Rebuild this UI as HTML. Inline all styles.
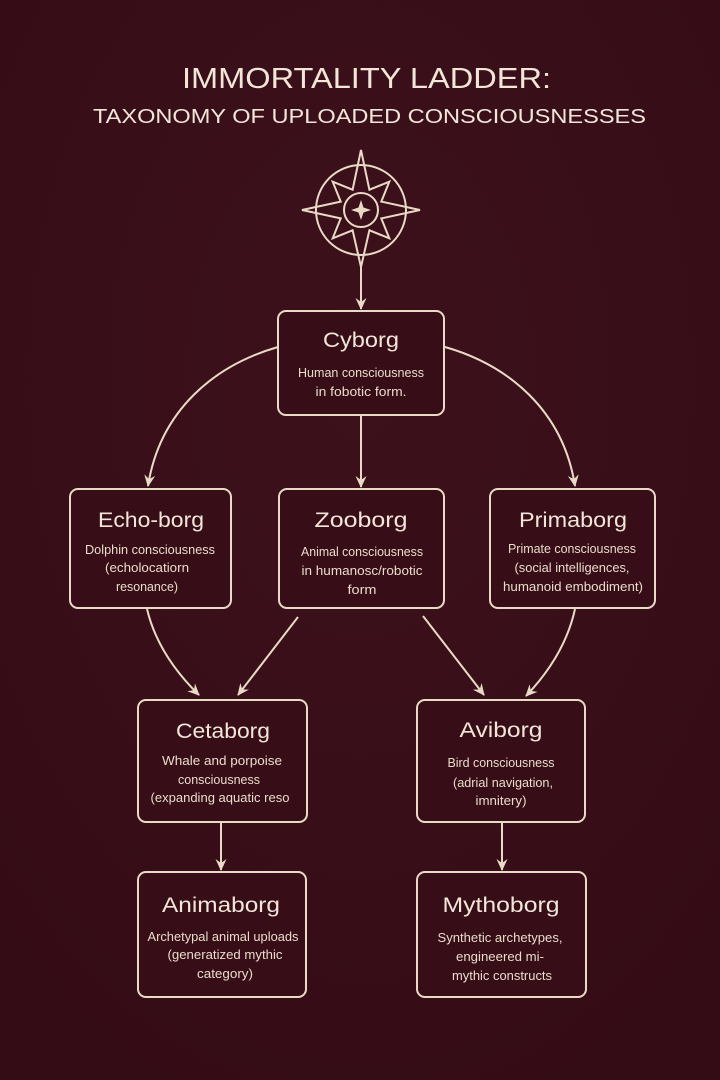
<!DOCTYPE html>
<html>
<head>
<meta charset="utf-8">
<style>
  html, body { margin:0; padding:0; background:#380e18; }
  svg { display:block; }
  .t { font-family:"Liberation Sans", sans-serif; fill:#f1e6d8; }
  .h { font-size:21px; text-anchor:middle; }
  .b { font-size:12.5px; text-anchor:middle; fill:#eadccb; }
  .box { fill:#370d17; stroke:#e9dac6; stroke-width:2; }
  .ln { fill:none; stroke:#e9dac6; stroke-width:2; }
</style>
</head>
<body>
<svg width="720" height="1080" viewBox="0 0 720 1080" xmlns="http://www.w3.org/2000/svg">
  <defs>
    <radialGradient id="bg" cx="50%" cy="35%" r="75%">
      <stop offset="0" stop-color="#3d111b"/>
      <stop offset="1" stop-color="#340c16"/>
    </radialGradient>
    <marker id="ah" viewBox="0 0 12 12" markerWidth="12" markerHeight="12" refX="11" refY="6" orient="auto" markerUnits="userSpaceOnUse">
      <path d="M0,0.5 L12,6 L0,11.5 L4,6 z" fill="#e9dac6"/>
    </marker>
  </defs>
  <rect width="720" height="1080" fill="url(#bg)"/>

  <!-- Titles -->
  <text class="t" x="182" y="88" font-size="29" textLength="369" lengthAdjust="spacingAndGlyphs">IMMORTALITY LADDER:</text>
  <text class="t" x="93" y="123" font-size="20" textLength="553" lengthAdjust="spacingAndGlyphs">TAXONOMY OF UPLOADED CONSCIOUSNESSES</text>

  <!-- Compass -->
  <g transform="translate(361,210)" stroke="#e9dac6" stroke-width="2" fill="none" stroke-linejoin="miter">
    <circle r="45"/>
    <circle r="17"/>
    <polygon points="0,-60 8.4,-20.3 28.3,-28.3 20.3,-8.4 59,0 20.3,8.4 28.3,28.3 8.4,20.3 0,57 -8.4,20.3 -28.3,28.3 -20.3,8.4 -59,0 -20.3,-8.4 -28.3,-28.3 -8.4,-20.3"/>
    <path d="M0,-10 L2.5,-2.5 L10,0 L2.5,2.5 L0,10 L-2.5,2.5 L-10,0 L-2.5,-2.5 z" fill="#e9dac6" stroke="none"/>
  </g>

  <!-- Connectors -->
  <path class="ln" d="M361,267 L361,309" marker-end="url(#ah)"/>
  <path class="ln" d="M278,347 C215,365 160,410 148,486" marker-end="url(#ah)"/>
  <path class="ln" d="M445,347 C508,365 563,410 575,486" marker-end="url(#ah)"/>
  <path class="ln" d="M361,415 L361,487" marker-end="url(#ah)"/>
  <path class="ln" d="M147,609 Q158,655 199,695" marker-end="url(#ah)"/>
  <path class="ln" d="M298,617 L238,695" marker-end="url(#ah)"/>
  <path class="ln" d="M423,616 L484,695" marker-end="url(#ah)"/>
  <path class="ln" d="M575,609 Q565,655 526,696" marker-end="url(#ah)"/>
  <path class="ln" d="M221,822 L221,870" marker-end="url(#ah)"/>
  <path class="ln" d="M502,822 L502,870" marker-end="url(#ah)"/>

  <!-- Cyborg -->
  <rect class="box" x="278" y="311" width="166" height="104" rx="8"/>
  <text class="t h" x="361" y="347" textLength="76" lengthAdjust="spacingAndGlyphs">Cyborg</text>
  <text class="t b" x="361" y="377" textLength="126" lengthAdjust="spacingAndGlyphs">Human consciousness</text>
  <text class="t b" x="361" y="396" textLength="91" lengthAdjust="spacingAndGlyphs">in fobotic form.</text>

  <!-- Echo-borg -->
  <rect class="box" x="70" y="489" width="161" height="119" rx="8"/>
  <text class="t h" x="151" y="527" textLength="106" lengthAdjust="spacingAndGlyphs">Echo-borg</text>
  <text class="t b" x="150" y="554" textLength="130" lengthAdjust="spacingAndGlyphs">Dolphin consciousness</text>
  <text class="t b" x="147" y="572" textLength="84" lengthAdjust="spacingAndGlyphs">(echolocatiorn</text>
  <text class="t b" x="147" y="591" textLength="62" lengthAdjust="spacingAndGlyphs">resonance)</text>

  <!-- Zooborg -->
  <rect class="box" x="279" y="489" width="165" height="119" rx="8"/>
  <text class="t h" x="361" y="527" textLength="93" lengthAdjust="spacingAndGlyphs">Zooborg</text>
  <text class="t b" x="362" y="556" textLength="122" lengthAdjust="spacingAndGlyphs">Animal consciousness</text>
  <text class="t b" x="362" y="575" textLength="121" lengthAdjust="spacingAndGlyphs">in humanosc/robotic</text>
  <text class="t b" x="362" y="594" textLength="29" lengthAdjust="spacingAndGlyphs">form</text>

  <!-- Primaborg -->
  <rect class="box" x="490" y="489" width="165" height="119" rx="8"/>
  <text class="t h" x="573" y="527" textLength="108" lengthAdjust="spacingAndGlyphs">Primaborg</text>
  <text class="t b" x="572" y="553" textLength="128" lengthAdjust="spacingAndGlyphs">Primate consciousness</text>
  <text class="t b" x="572" y="572" textLength="115" lengthAdjust="spacingAndGlyphs">(social intelligences,</text>
  <text class="t b" x="573" y="591" textLength="140" lengthAdjust="spacingAndGlyphs">humanoid embodiment)</text>

  <!-- Cetaborg -->
  <rect class="box" x="138" y="700" width="169" height="122" rx="8"/>
  <text class="t h" x="223" y="738" font-size="22" textLength="94" lengthAdjust="spacingAndGlyphs">Cetaborg</text>
  <text class="t b" x="222" y="765" textLength="120" lengthAdjust="spacingAndGlyphs">Whale and porpoise</text>
  <text class="t b" x="219" y="784" textLength="82" lengthAdjust="spacingAndGlyphs">consciousness</text>
  <text class="t b" x="220" y="802" textLength="139" lengthAdjust="spacingAndGlyphs">(expanding aquatic reso</text>

  <!-- Aviborg -->
  <rect class="box" x="417" y="700" width="168" height="122" rx="8"/>
  <text class="t h" x="501" y="737" font-size="22" textLength="83" lengthAdjust="spacingAndGlyphs">Aviborg</text>
  <text class="t b" x="501" y="767" textLength="107" lengthAdjust="spacingAndGlyphs">Bird consciousness</text>
  <text class="t b" x="503" y="787" textLength="100" lengthAdjust="spacingAndGlyphs">(adrial navigation,</text>
  <text class="t b" x="501" y="805" textLength="51" lengthAdjust="spacingAndGlyphs">imnitery)</text>

  <!-- Animaborg -->
  <rect class="box" x="138" y="872" width="168" height="125" rx="8"/>
  <text class="t h" x="221" y="912" font-size="24" textLength="118" lengthAdjust="spacingAndGlyphs">Animaborg</text>
  <text class="t b" x="223" y="941" textLength="151" lengthAdjust="spacingAndGlyphs">Archetypal animal uploads</text>
  <text class="t b" x="225" y="959" textLength="115" lengthAdjust="spacingAndGlyphs">(generatized mythic</text>
  <text class="t b" x="225" y="978" textLength="56" lengthAdjust="spacingAndGlyphs">category)</text>

  <!-- Mythoborg -->
  <rect class="box" x="417" y="872" width="169" height="125" rx="8"/>
  <text class="t h" x="501" y="912" font-size="24" textLength="117" lengthAdjust="spacingAndGlyphs">Mythoborg</text>
  <text class="t b" x="500" y="942" textLength="125" lengthAdjust="spacingAndGlyphs">Synthetic archetypes,</text>
  <text class="t b" x="500" y="961" textLength="88" lengthAdjust="spacingAndGlyphs">engineered mi-</text>
  <text class="t b" x="502" y="980" textLength="100" lengthAdjust="spacingAndGlyphs">mythic constructs</text>
</svg>
</body>
</html>
